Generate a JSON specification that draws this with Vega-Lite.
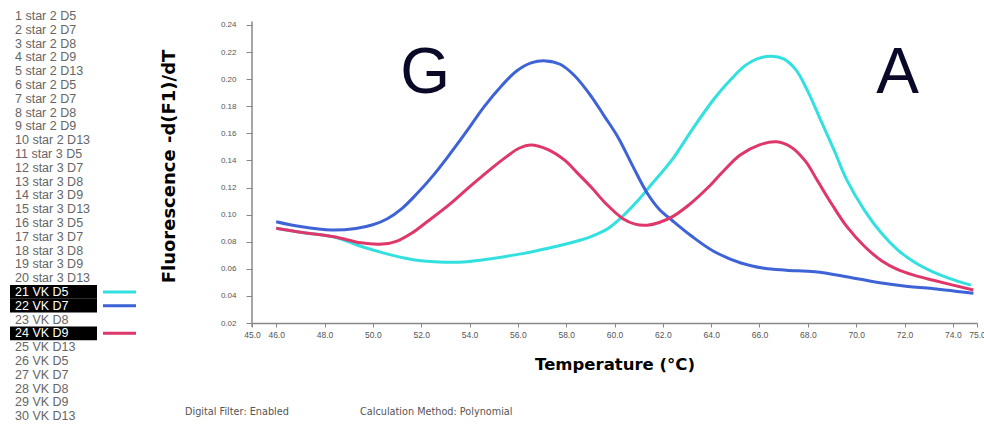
{
  "$schema": "https://vega.github.io/schema/vega-lite/v6.json",
  "autosize": {"type": "pad"},
  "padding": {"left": 10, "top": 9, "right": 0, "bottom": 0},
  "background": "white",
  "config": {
    "view": {"stroke": null},
    "axis": {"labelOverlap": false, "grid": false}
  },
  "spacing": 22,
  "datasets": {
    "samples": [
      {"label": "1 star 2 D5", "shown": false},
      {"label": "2 star 2 D7", "shown": false},
      {"label": "3 star 2 D8", "shown": false},
      {"label": "4 star 2 D9", "shown": false},
      {"label": "5 star 2 D13", "shown": false},
      {"label": "6 star 2 D5", "shown": false},
      {"label": "7 star 2 D7", "shown": false},
      {"label": "8 star 2 D8", "shown": false},
      {"label": "9 star 2 D9", "shown": false},
      {"label": "10 star 2 D13", "shown": false},
      {"label": "11 star 3 D5", "shown": false},
      {"label": "12 star 3 D7", "shown": false},
      {"label": "13 star 3 D8", "shown": false},
      {"label": "14 star 3 D9", "shown": false},
      {"label": "15 star 3 D13", "shown": false},
      {"label": "16 star 3 D5", "shown": false},
      {"label": "17 star 3 D7", "shown": false},
      {"label": "18 star 3 D8", "shown": false},
      {"label": "19 star 3 D9", "shown": false},
      {"label": "20 star 3 D13", "shown": false},
      {"label": "21 VK D5", "shown": true},
      {"label": "22 VK D7", "shown": true},
      {"label": "23 VK D8", "shown": false},
      {"label": "24 VK D9", "shown": true},
      {"label": "25 VK D13", "shown": false},
      {"label": "26 VK D5", "shown": false},
      {"label": "27 VK D7", "shown": false},
      {"label": "28 VK D8", "shown": false},
      {"label": "29 VK D9", "shown": false},
      {"label": "30 VK D13", "shown": false}
    ],
    "melt": [
      {"sample": "21 VK D5", "temp": 46.0, "value": 0.0899},
      {"sample": "21 VK D5", "temp": 47.0, "value": 0.0870},
      {"sample": "21 VK D5", "temp": 48.4, "value": 0.0835},
      {"sample": "21 VK D5", "temp": 49.4, "value": 0.0772},
      {"sample": "21 VK D5", "temp": 50.5, "value": 0.0714},
      {"sample": "21 VK D5", "temp": 51.3, "value": 0.0680},
      {"sample": "21 VK D5", "temp": 52.1, "value": 0.0657},
      {"sample": "21 VK D5", "temp": 53.0, "value": 0.0648},
      {"sample": "21 VK D5", "temp": 53.9, "value": 0.0652},
      {"sample": "21 VK D5", "temp": 54.9, "value": 0.0675},
      {"sample": "21 VK D5", "temp": 56.25, "value": 0.0714},
      {"sample": "21 VK D5", "temp": 57.25, "value": 0.0752},
      {"sample": "21 VK D5", "temp": 58.35, "value": 0.0800},
      {"sample": "21 VK D5", "temp": 59.05, "value": 0.0840},
      {"sample": "21 VK D5", "temp": 59.75, "value": 0.0900},
      {"sample": "21 VK D5", "temp": 60.35, "value": 0.0990},
      {"sample": "21 VK D5", "temp": 60.95, "value": 0.1100},
      {"sample": "21 VK D5", "temp": 61.45, "value": 0.1206},
      {"sample": "21 VK D5", "temp": 62.4, "value": 0.1410},
      {"sample": "21 VK D5", "temp": 63.2, "value": 0.1624},
      {"sample": "21 VK D5", "temp": 64.1, "value": 0.1850},
      {"sample": "21 VK D5", "temp": 64.8, "value": 0.1995},
      {"sample": "21 VK D5", "temp": 65.4, "value": 0.2100},
      {"sample": "21 VK D5", "temp": 65.9, "value": 0.2150},
      {"sample": "21 VK D5", "temp": 66.5, "value": 0.2170},
      {"sample": "21 VK D5", "temp": 67.0, "value": 0.2150},
      {"sample": "21 VK D5", "temp": 67.5, "value": 0.2070},
      {"sample": "21 VK D5", "temp": 68.0, "value": 0.1910},
      {"sample": "21 VK D5", "temp": 68.5, "value": 0.1710},
      {"sample": "21 VK D5", "temp": 69.1, "value": 0.1470},
      {"sample": "21 VK D5", "temp": 69.6, "value": 0.1260},
      {"sample": "21 VK D5", "temp": 70.35, "value": 0.1030},
      {"sample": "21 VK D5", "temp": 71.05, "value": 0.0862},
      {"sample": "21 VK D5", "temp": 71.75, "value": 0.0735},
      {"sample": "21 VK D5", "temp": 72.45, "value": 0.0645},
      {"sample": "21 VK D5", "temp": 73.15, "value": 0.0580},
      {"sample": "21 VK D5", "temp": 73.85, "value": 0.0530},
      {"sample": "21 VK D5", "temp": 74.75, "value": 0.0480},

      {"sample": "22 VK D7", "temp": 46.0, "value": 0.0948},
      {"sample": "22 VK D7", "temp": 47.0, "value": 0.0912},
      {"sample": "22 VK D7", "temp": 48.3, "value": 0.0886},
      {"sample": "22 VK D7", "temp": 49.3, "value": 0.0898},
      {"sample": "22 VK D7", "temp": 50.0, "value": 0.0925},
      {"sample": "22 VK D7", "temp": 50.6, "value": 0.0970},
      {"sample": "22 VK D7", "temp": 51.2, "value": 0.1045},
      {"sample": "22 VK D7", "temp": 51.8, "value": 0.1150},
      {"sample": "22 VK D7", "temp": 52.5, "value": 0.1290},
      {"sample": "22 VK D7", "temp": 53.2, "value": 0.1450},
      {"sample": "22 VK D7", "temp": 53.9, "value": 0.1620},
      {"sample": "22 VK D7", "temp": 54.6, "value": 0.1796},
      {"sample": "22 VK D7", "temp": 55.35, "value": 0.1955},
      {"sample": "22 VK D7", "temp": 55.95, "value": 0.2060},
      {"sample": "22 VK D7", "temp": 56.55, "value": 0.2120},
      {"sample": "22 VK D7", "temp": 57.15, "value": 0.2135},
      {"sample": "22 VK D7", "temp": 57.75, "value": 0.2110},
      {"sample": "22 VK D7", "temp": 58.35, "value": 0.2025},
      {"sample": "22 VK D7", "temp": 59.05, "value": 0.1870},
      {"sample": "22 VK D7", "temp": 59.55, "value": 0.1735},
      {"sample": "22 VK D7", "temp": 60.15, "value": 0.1570},
      {"sample": "22 VK D7", "temp": 60.75, "value": 0.1360},
      {"sample": "22 VK D7", "temp": 61.35, "value": 0.1160},
      {"sample": "22 VK D7", "temp": 61.85, "value": 0.1040},
      {"sample": "22 VK D7", "temp": 62.4, "value": 0.0955},
      {"sample": "22 VK D7", "temp": 63.2, "value": 0.0840},
      {"sample": "22 VK D7", "temp": 64.1, "value": 0.0730},
      {"sample": "22 VK D7", "temp": 65.2, "value": 0.0645},
      {"sample": "22 VK D7", "temp": 66.2, "value": 0.0604},
      {"sample": "22 VK D7", "temp": 67.1, "value": 0.0590},
      {"sample": "22 VK D7", "temp": 68.3, "value": 0.0578},
      {"sample": "22 VK D7", "temp": 69.6, "value": 0.0542},
      {"sample": "22 VK D7", "temp": 71.05, "value": 0.0495},
      {"sample": "22 VK D7", "temp": 72.15, "value": 0.0470},
      {"sample": "22 VK D7", "temp": 73.15, "value": 0.0455},
      {"sample": "22 VK D7", "temp": 74.85, "value": 0.0419},

      {"sample": "24 VK D9", "temp": 46.0, "value": 0.0899},
      {"sample": "24 VK D9", "temp": 47.0, "value": 0.0870},
      {"sample": "24 VK D9", "temp": 48.4, "value": 0.0837},
      {"sample": "24 VK D9", "temp": 49.5, "value": 0.0792},
      {"sample": "24 VK D9", "temp": 50.4, "value": 0.0783},
      {"sample": "24 VK D9", "temp": 51.0, "value": 0.0805},
      {"sample": "24 VK D9", "temp": 51.6, "value": 0.0862},
      {"sample": "24 VK D9", "temp": 52.3, "value": 0.0955},
      {"sample": "24 VK D9", "temp": 53.2, "value": 0.1080},
      {"sample": "24 VK D9", "temp": 54.0, "value": 0.1205},
      {"sample": "24 VK D9", "temp": 54.9, "value": 0.1340},
      {"sample": "24 VK D9", "temp": 55.55, "value": 0.1430},
      {"sample": "24 VK D9", "temp": 56.05, "value": 0.1490},
      {"sample": "24 VK D9", "temp": 56.55, "value": 0.1514},
      {"sample": "24 VK D9", "temp": 57.25, "value": 0.1480},
      {"sample": "24 VK D9", "temp": 57.95, "value": 0.1400},
      {"sample": "24 VK D9", "temp": 58.45, "value": 0.1310},
      {"sample": "24 VK D9", "temp": 59.05, "value": 0.1200},
      {"sample": "24 VK D9", "temp": 59.65, "value": 0.1080},
      {"sample": "24 VK D9", "temp": 60.35, "value": 0.0970},
      {"sample": "24 VK D9", "temp": 60.85, "value": 0.0930},
      {"sample": "24 VK D9", "temp": 61.35, "value": 0.0922},
      {"sample": "24 VK D9", "temp": 61.85, "value": 0.0942},
      {"sample": "24 VK D9", "temp": 62.4, "value": 0.0985},
      {"sample": "24 VK D9", "temp": 63.1, "value": 0.1075},
      {"sample": "24 VK D9", "temp": 63.9, "value": 0.1206},
      {"sample": "24 VK D9", "temp": 64.5, "value": 0.1320},
      {"sample": "24 VK D9", "temp": 65.2, "value": 0.1440},
      {"sample": "24 VK D9", "temp": 66.0, "value": 0.1515},
      {"sample": "24 VK D9", "temp": 66.7, "value": 0.1538},
      {"sample": "24 VK D9", "temp": 67.3, "value": 0.1500},
      {"sample": "24 VK D9", "temp": 67.9, "value": 0.1395},
      {"sample": "24 VK D9", "temp": 68.4, "value": 0.1250},
      {"sample": "24 VK D9", "temp": 69.0, "value": 0.1075},
      {"sample": "24 VK D9", "temp": 69.6, "value": 0.0915},
      {"sample": "24 VK D9", "temp": 70.35, "value": 0.0765},
      {"sample": "24 VK D9", "temp": 71.05, "value": 0.0660},
      {"sample": "24 VK D9", "temp": 71.75, "value": 0.0592},
      {"sample": "24 VK D9", "temp": 72.45, "value": 0.0550},
      {"sample": "24 VK D9", "temp": 73.15, "value": 0.0517},
      {"sample": "24 VK D9", "temp": 74.85, "value": 0.0444}
    ]
  },
  "hconcat": [
    {
      "spacing": 4,
      "hconcat": [
        {
          "width": 87,
          "height": 414,
          "data": {"name": "samples"},
          "encoding": {
            "y": {"field": "label", "type": "nominal", "sort": null, "axis": null,
                  "scale": {"paddingInner": 0, "paddingOuter": 0}}
          },
          "layer": [
            {
              "mark": {"type": "rect"},
              "encoding": {
                "x": {"datum": 0, "type": "quantitative", "scale": {"domain": [0, 1]}, "axis": null},
                "x2": {"datum": 1},
                "color": {"condition": {"test": "datum.shown", "value": "#000000"}, "value": "transparent"}
              }
            },
            {
              "mark": {"type": "text", "align": "left", "baseline": "middle", "dx": 5,
                       "font": "Liberation Sans", "fontSize": 12.5},
              "encoding": {
                "x": {"datum": 0, "type": "quantitative", "axis": null},
                "text": {"field": "label"},
                "color": {"condition": {"test": "datum.shown", "value": "#ffffff"}, "value": "#666666"}
              }
            }
          ]
        },
        {
          "width": 33,
          "height": 414,
          "data": {"name": "samples"},
          "mark": {"type": "rule", "strokeWidth": 3},
          "encoding": {
            "y": {"field": "label", "type": "nominal", "sort": null, "axis": null,
                  "scale": {"paddingInner": 0, "paddingOuter": 0}},
            "x": {"datum": 0, "type": "quantitative", "scale": {"domain": [0, 1]}, "axis": null},
            "x2": {"datum": 1},
            "color": {"field": "label", "type": "nominal", "legend": null,
                      "scale": {"domain": ["21 VK D5", "22 VK D7", "24 VK D9"],
                                "range": ["#33e0e0", "#3d63d6", "#e0376b"]}},
            "strokeOpacity": {"condition": {"test": "datum.shown", "value": 1}, "value": 0}
          }
        }
      ]
    },
    {
      "width": 725,
      "height": 314,
      "layer": [
        {
          "data": {"name": "melt"},
          "mark": {"type": "line", "strokeWidth": 3, "interpolate": "catmull-rom"},
          "encoding": {
            "x": {"field": "temp", "type": "quantitative",
                  "scale": {"domain": [45, 75], "nice": false, "zero": false},
                  "axis": {
                    "values": [45, 46, 48, 50, 52, 54, 56, 58, 60, 62, 64, 66, 68, 70, 72, 74, 75],
                    "tickCount": 40,
                    "format": ".1f", "labelOverlap": false, "labelFlush": false,
                    "labelFont": "Liberation Sans", "labelFontSize": 8.5, "labelColor": "#555555",
                    "labelPadding": 3, "tickSize": 4, "tickColor": "#888888",
                    "domainColor": "#888888", "domainWidth": 1.5,
                    "title": "Temperature (°C)", "titleFont": "DejaVu Sans", "titleFontSize": 16.5,
                    "titleFontWeight": "bold", "titleColor": "#000000", "titlePadding": 18
                  }},
            "y": {"field": "value", "type": "quantitative",
                  "scale": {"domain": [0.02, 0.2518], "nice": false, "zero": false},
                  "axis": {
                    "values": [0.02, 0.04, 0.06, 0.08, 0.10, 0.12, 0.14, 0.16, 0.18, 0.20, 0.22, 0.24],
                    "tickCount": 40,
                    "format": ".2f", "domain": false, "labelOverlap": false,
                    "labelFont": "Liberation Sans", "labelFontSize": 8, "labelColor": "#555555",
                    "labelPadding": 10, "tickSize": 6, "tickColor": "#888888",
                    "title": "Fluorescence -d(F1)/dT", "titleFont": "DejaVu Sans", "titleFontSize": 18,
                    "titleFontWeight": "bold", "titleColor": "#000000", "titlePadding": 42
                  }},
            "color": {"field": "sample", "type": "nominal", "legend": null,
                      "scale": {"domain": ["21 VK D5", "22 VK D7", "24 VK D9"],
                                "range": ["#33e0e0", "#3d63d6", "#e0376b"]}}
          }
        },
        {
          "data": {"values": [{}]},
          "mark": {"type": "rule", "color": "#888888", "strokeWidth": 1.5},
          "encoding": {
            "x": {"datum": 45, "type": "quantitative"},
            "y": {"datum": 0.017, "type": "quantitative"},
            "y2": {"datum": 0.2425}
          }
        },
        {
          "data": {"values": [{}]},
          "mark": {"type": "text", "text": "G", "font": "Liberation Sans", "fontSize": 64,
                   "color": "#0a0a28", "baseline": "alphabetic", "align": "center"},
          "encoding": {
            "x": {"datum": 52.16, "type": "quantitative"},
            "y": {"datum": 0.1898, "type": "quantitative"}
          }
        },
        {
          "data": {"values": [{}]},
          "mark": {"type": "text", "text": "A", "font": "Liberation Sans", "fontSize": 64,
                   "color": "#0a0a28", "baseline": "alphabetic", "align": "center"},
          "encoding": {
            "x": {"datum": 71.71, "type": "quantitative"},
            "y": {"datum": 0.1898, "type": "quantitative"}
          }
        },
        {
          "data": {"values": [{}]},
          "mark": {"type": "text", "text": "Digital Filter: Enabled", "font": "DejaVu Sans",
                   "fontSize": 9.7, "color": "#555555", "align": "left", "baseline": "middle"},
          "encoding": {
            "x": {"datum": 42.23, "type": "quantitative"},
            "y": {"datum": -0.0455, "type": "quantitative"}
          }
        },
        {
          "data": {"values": [{}]},
          "mark": {"type": "text", "text": "Calculation Method: Polynomial", "font": "DejaVu Sans",
                   "fontSize": 9.7, "color": "#555555", "align": "left", "baseline": "middle"},
          "encoding": {
            "x": {"datum": 49.47, "type": "quantitative"},
            "y": {"datum": -0.0455, "type": "quantitative"}
          }
        }
      ]
    }
  ]
}
